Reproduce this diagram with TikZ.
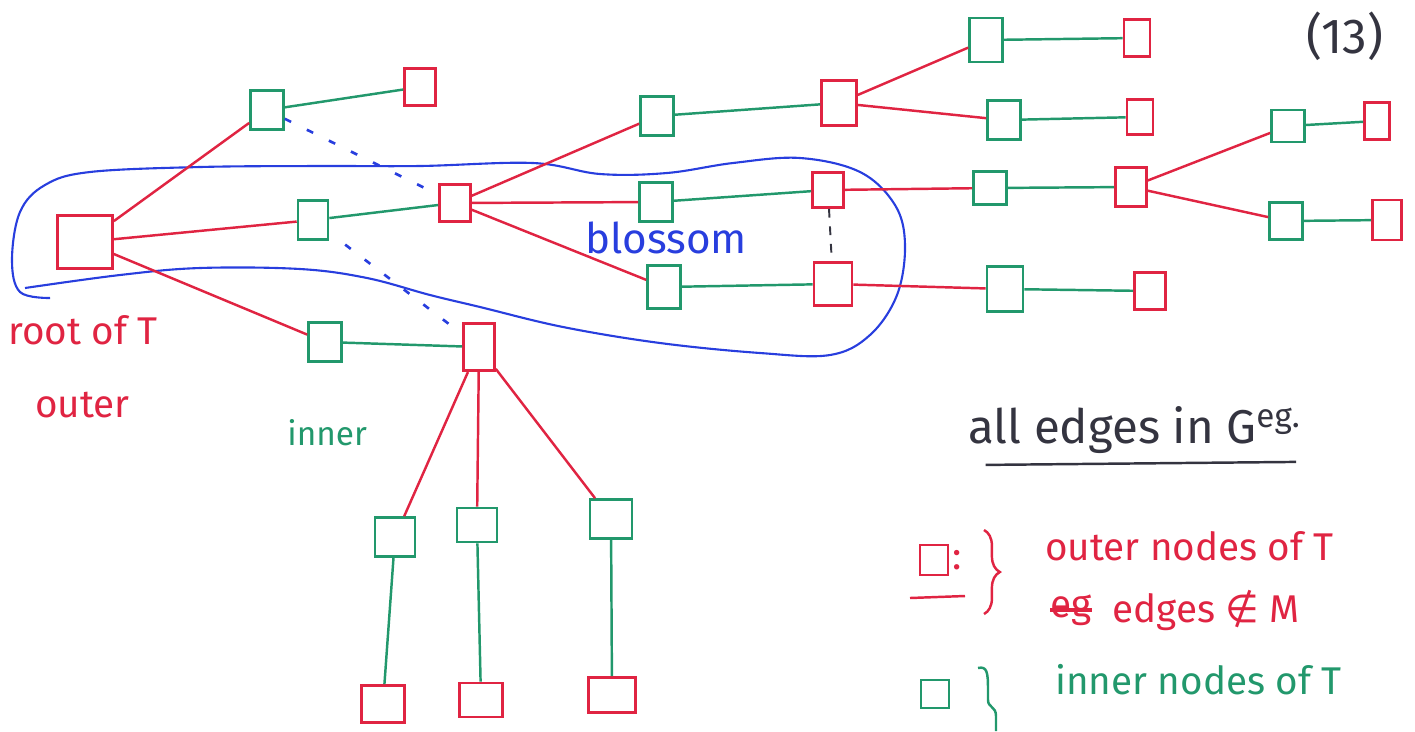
\documentclass[tikz,border=0pt]{standalone}
\usepackage{fontspec}
\setmainfont{Fira Sans}
\newfontfamily\mathsym{DejaVu Sans}
\usetikzlibrary{decorations.pathreplacing}
\definecolor{penred}{RGB}{224,36,66}
\definecolor{pengreen}{RGB}{34,152,108}
\definecolor{penblue}{RGB}{40,62,222}
\definecolor{pengray}{RGB}{52,52,64}

\begin{document}
\begin{tikzpicture}[x=0.02cm, y=-0.02cm,
  every node/.style = {inner sep=0pt},
  outer/.style = {draw=penred, line width=1.5pt,
    minimum width=0.62cm, minimum height=0.74cm},
  inner/.style = {draw=pengreen, line width=1.5pt,
    minimum width=0.66cm, minimum height=0.78cm},
  tedge/.style = {penred, line width=1.4pt},
  medge/.style = {pengreen, line width=1.4pt},
  blossomtie/.style = {penblue, line width=1.5pt, dash pattern=on 4pt off 10pt},
  hand/.style = {font=\fontsize{22}{26}\selectfont}]
  \useasboundingbox (0,0) rectangle (1415,731);

  % blossom
  \draw[penblue, line width=1.2pt] plot[smooth, tension=0.6] coordinates {
    (50,298) (20,292) (12,260) (20,212) (45,185) (90,172) (200,167)
    (320,166) (420,166) (533,163) (600,174) (667,173) (733,163)
    (800,158) (860,172) (895,205) (905,245) (897,295) (870,335)
    (830,355) (760,353) (660,343) (563,327) (480,307) (430,295)
    (367,278) (300,269) (200,268) (120,275) (25,288)};

  \node[outer, minimum width=1.1cm, minimum height=1.05cm] (root) at (85,242) {};
  \node[inner] (a1) at (267,110) {};
  \node[outer] (a2) at (420,87) {};
  \node[inner, minimum width=0.6cm] (b1) at (313,220) {};
  \node[outer] (b2) at (455,203) {};
  \node[inner] (c1) at (325,342) {};
  \node[outer, minimum height=0.95cm] (c2) at (479,347) {};
  \node[inner] (d1) at (657,116) {};
  \node[outer, minimum width=0.7cm, minimum height=0.9cm] (d2) at (839,103) {};
  \node[inner, minimum height=0.88cm] (e1) at (986,40) {};
  \node[outer, minimum width=0.52cm] (e2) at (1137,38) {};
  \node[inner] (f1) at (1004,120) {};
  \node[outer, minimum width=0.52cm, minimum height=0.7cm] (f2) at (1140,117) {};
  \node[inner] (g1) at (656,202) {};
  \node[outer, minimum height=0.7cm] (g2) at (828,190) {};
  \node[inner, minimum height=0.86cm] (h1) at (664,287) {};
  \node[outer, minimum width=0.76cm, minimum height=0.86cm] (h2) at (833,284) {};
  \node[inner, minimum height=0.66cm] (i1) at (990,188) {};
  \node[outer, minimum height=0.78cm] (i2) at (1131,187) {};
  \node[inner, minimum height=0.64cm] (j1) at (1288,126) {};
  \node[outer, minimum width=0.5cm] (j2) at (1377,121) {};
  \node[inner, minimum height=0.74cm] (k1) at (1286,221) {};
  \node[outer, minimum width=0.58cm, minimum height=0.8cm] (k2) at (1387,220) {};
  \node[inner, minimum width=0.72cm, minimum height=0.9cm] (l1) at (1005,289) {};
  \node[outer] (l2) at (1150,291) {};
  \node[inner, minimum width=0.8cm] (m1) at (395,537) {};
  \node[outer, minimum width=0.86cm] (m2) at (383,704) {};
  \node[inner, minimum width=0.8cm, minimum height=0.68cm] (n1) at (477,525) {};
  \node[outer, minimum width=0.86cm, minimum height=0.68cm] (n2) at (481,700) {};
  \node[inner, minimum width=0.84cm] (o1) at (611,519) {};
  \node[outer, minimum width=0.94cm, minimum height=0.7cm] (o2) at (612,695) {};

  \draw[tedge] (root) -- (a1);
  \draw[tedge] (root) -- (b1);
  \draw[tedge] (root) -- (c1);
  \draw[tedge] (b2) -- (d1);
  \draw[tedge] (b2) -- (g1);
  \draw[tedge] (b2) -- (h1);
  \draw[tedge] (d2) -- (e1);
  \draw[tedge] (d2) -- (f1);
  \draw[tedge] (g2) -- (i1);
  \draw[tedge] (i2) -- (j1);
  \draw[tedge] (i2) -- (k1);
  \draw[tedge] (h2) -- (l1);
  \draw[tedge] (c2) -- (m1);
  \draw[tedge] (c2) -- (n1);
  \draw[tedge] (c2) -- (o1);

  \draw[medge] (a1) -- (a2);
  \draw[medge] (b1) -- (b2);
  \draw[medge] (c1) -- (c2);
  \draw[medge] (d1) -- (d2);
  \draw[medge] (e1) -- (e2);
  \draw[medge] (f1) -- (f2);
  \draw[medge] (g1) -- (g2);
  \draw[medge] (h1) -- (h2);
  \draw[medge] (i1) -- (i2);
  \draw[medge] (j1) -- (j2);
  \draw[medge] (k1) -- (k2);
  \draw[medge] (l1) -- (l2);
  \draw[medge] (m1) -- (m2);
  \draw[medge] (n1) -- (n2);
  \draw[medge] (o1) -- (o2);

  \draw[blossomtie] (a1) -- (b2);
  \draw[blossomtie, shorten <=0.4cm] (b1) -- (c2);
  \draw[pengray, line width=1.1pt, dash pattern=on 5pt off 5pt] (g2) -- (h2);

  \node[hand, penred, anchor=west] (rootlabel) at (8,330) {root of T};
  \node[hand, penred, anchor=west] (outerlabel) at (35,405) {outer};
  \node[hand, pengreen, anchor=west, font=\fontsize{19}{22}\selectfont] (innerlabel) at (287,433) {inner};
  \node[hand, penblue, anchor=west, font=\fontsize{24}{28}\selectfont] (blossomlabel) at (585,238) {blossom};
  \node[hand, pengray, anchor=west, font=\fontsize{28}{32}\selectfont] (pagenum) at (1306,36) {(13)};

  \node[hand, pengray, anchor=west, font=\fontsize{27}{32}\selectfont] (title) at (968,430)
    {all edges in G\textsuperscript{eg.}};
  \draw[pengray, line width=1.4pt] ([xshift=0.35cm, yshift=-0.22cm]title.south west)
    -- ([xshift=-0.1cm, yshift=-0.16cm]title.south east);

  \node[outer, minimum width=0.56cm, minimum height=0.6cm] (legout) at (934,560) {};
  \node[hand, penred, anchor=west] (legcolon) at (952,560) {:};
  \coordinate (legline1) at (910,598);
  \coordinate (legline2) at (965,596);
  \draw[tedge] (legline1) -- (legline2);
  \draw[penred, line width=1.4pt, decorate, decoration={brace, amplitude=9pt}]
    (984,530) -- (984,614);
  \node[hand, penred, anchor=west] (legouttext) at (1045,546) {outer nodes of T};
  \node[hand, penred, anchor=west] (legstrike) at (1050,610) {eg};
  \draw[penred, line width=1.8pt] (legstrike.west) -- (legstrike.east);
  \node[hand, penred, anchor=west] (legedgetext) at (1112,610) {edges {\mathsym ∉} M};

  \node[inner, minimum width=0.56cm, minimum height=0.56cm] (legin) at (935,694) {};
  \draw[pengreen, line width=1.4pt] (978,668) .. controls (987,666) and (988,672) .. (988,690)
    -- (988,700) .. controls (988,708) and (996,706) .. (996,716) -- (996,731);
  \node[hand, pengreen, anchor=west] (legintext) at (1055,680) {inner nodes of T};
\end{tikzpicture}
\end{document}
